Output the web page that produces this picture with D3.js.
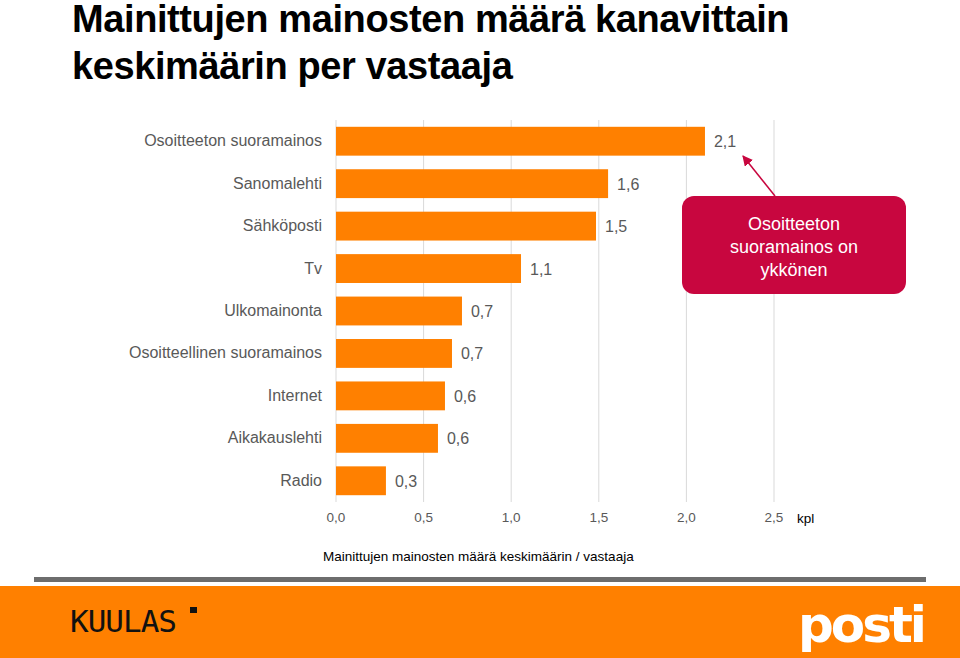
<!DOCTYPE html>
<html><head><meta charset="utf-8">
<script src="https://cdn.jsdelivr.net/npm/d3@7"></script>
<style>body{margin:0;background:#fff}svg{display:block}</style>
</head><body>
<svg id="c" width="960" height="658"></svg>
<script>
const categories = ["Osoitteeton suoramainos","Sanomalehti","Sähköposti","Tv","Ulkomainonta","Osoitteellinen suoramainos","Internet","Aikakauslehti","Radio"];
const values = [2.106, 1.553, 1.484, 1.056, 0.719, 0.662, 0.622, 0.582, 0.285];
const valueLabels = ["2,1","1,6","1,5","1,1","0,7","0,7","0,6","0,6","0,3"];
const tickValues = [0, 0.5, 1.0, 1.5, 2.0, 2.5];
const tickLabels = ["0,0","0,5","1,0","1,5","2,0","2,5"];
const titleLines = ["Mainittujen mainosten määrä kanavittain","keskimäärin per vastaaja"];
const calloutLines = ["Osoitteeton","suoramainos on","ykkönen"];

const svg = d3.select("#c");
const font = "'Liberation Sans', Arial, sans-serif";
const x = d3.scaleLinear().domain([0, 2.5]).range([336, 774]);
const y = d3.scaleBand().domain(categories).range([120, 502]).paddingInner(0.32).paddingOuter(0.16);

// title
svg.append("g").selectAll("text").data(titleLines).join("text")
  .attr("x", 72).attr("y", (d,i)=>32+i*47)
  .attr("font-family", font).attr("font-weight", "bold").attr("font-size", 38)
  .attr("letter-spacing", -0.4).attr("fill", "#000").text(d=>d);

// gridlines
svg.append("g").selectAll("line").data(tickValues).join("line")
  .attr("x1", d=>x(d)).attr("x2", d=>x(d)).attr("y1", 120).attr("y2", 502)
  .attr("stroke", "#d9d9d9").attr("stroke-width", 1);

// bars
svg.append("g").selectAll("rect").data(values).join("rect")
  .attr("x", x(0)).attr("y", (d,i)=>y(categories[i]))
  .attr("width", d=>x(d)-x(0)).attr("height", y.bandwidth())
  .attr("fill", "#ff8000");

// value labels
svg.append("g").selectAll("text").data(values).join("text")
  .attr("x", d=>x(d)+9).attr("y", (d,i)=>y(categories[i])+y.bandwidth()/2+6)
  .attr("font-family", font).attr("font-size", 16).attr("fill", "#595959")
  .text((d,i)=>valueLabels[i]);

// category labels
svg.append("g").selectAll("text").data(categories).join("text")
  .attr("x", 322).attr("y", d=>y(d)+y.bandwidth()/2+5)
  .attr("text-anchor", "end")
  .attr("font-family", font).attr("font-size", 16).attr("fill", "#595959")
  .text(d=>d);

// x axis tick labels
svg.append("g").selectAll("text").data(tickValues).join("text")
  .attr("x", d=>x(d)).attr("y", 522).attr("text-anchor", "middle")
  .attr("font-family", font).attr("font-size", 13.5).attr("fill", "#595959")
  .text((d,i)=>tickLabels[i]);
svg.append("text").attr("x", 797).attr("y", 523)
  .attr("font-family", font).attr("font-size", 13.5).attr("fill", "#000").text("kpl");
svg.append("text").attr("x", 323).attr("y", 561)
  .attr("font-family", font).attr("font-size", 13.5).attr("fill", "#000")
  .text("Mainittujen mainosten määrä keskimäärin / vastaaja");

// callout
const red = "#c8063f";
svg.append("defs").append("marker").attr("id","ah").attr("viewBox","0 0 10 10")
  .attr("refX", 9).attr("refY", 5).attr("markerWidth", 7).attr("markerHeight", 7)
  .attr("orient","auto").append("path").attr("d","M0,0L10,5L0,10z").attr("fill", red);
svg.append("line").attr("x1", 775).attr("y1", 196).attr("x2", 743).attr("y2", 156)
  .attr("stroke", red).attr("stroke-width", 1.5).attr("marker-end", "url(#ah)");
svg.append("rect").attr("x", 682).attr("y", 196).attr("width", 224).attr("height", 98)
  .attr("rx", 12).attr("fill", red);
svg.append("g").selectAll("text").data(calloutLines).join("text")
  .attr("x", 794).attr("y", (d,i)=>230+i*23).attr("text-anchor","middle")
  .attr("font-family", font).attr("font-size", 18).attr("fill", "#fff").text(d=>d);

// footer
svg.append("rect").attr("x", 34).attr("y", 577).attr("width", 892).attr("height", 5).attr("fill", "#6d6d6d");
svg.append("rect").attr("x", 0).attr("y", 586).attr("width", 960).attr("height", 72).attr("fill", "#ff8000");
svg.append("text").attr("x", 70).attr("y", 632)
  .attr("font-family", "'DejaVu Sans Mono', monospace").attr("font-size", 31)
  .attr("letter-spacing", -1).attr("fill", "#111").text("KUULAS");
svg.append("rect").attr("x", 190).attr("y", 607).attr("width", 7).attr("height", 6).attr("fill", "#111");
svg.append("text").attr("x", 798).attr("y", 642)
  .attr("font-family", "'DejaVu Sans', sans-serif").attr("font-weight", "bold").attr("font-size", 50)
  .attr("letter-spacing", -3).attr("fill", "#fff").text("posti");
</script>
</body></html>
